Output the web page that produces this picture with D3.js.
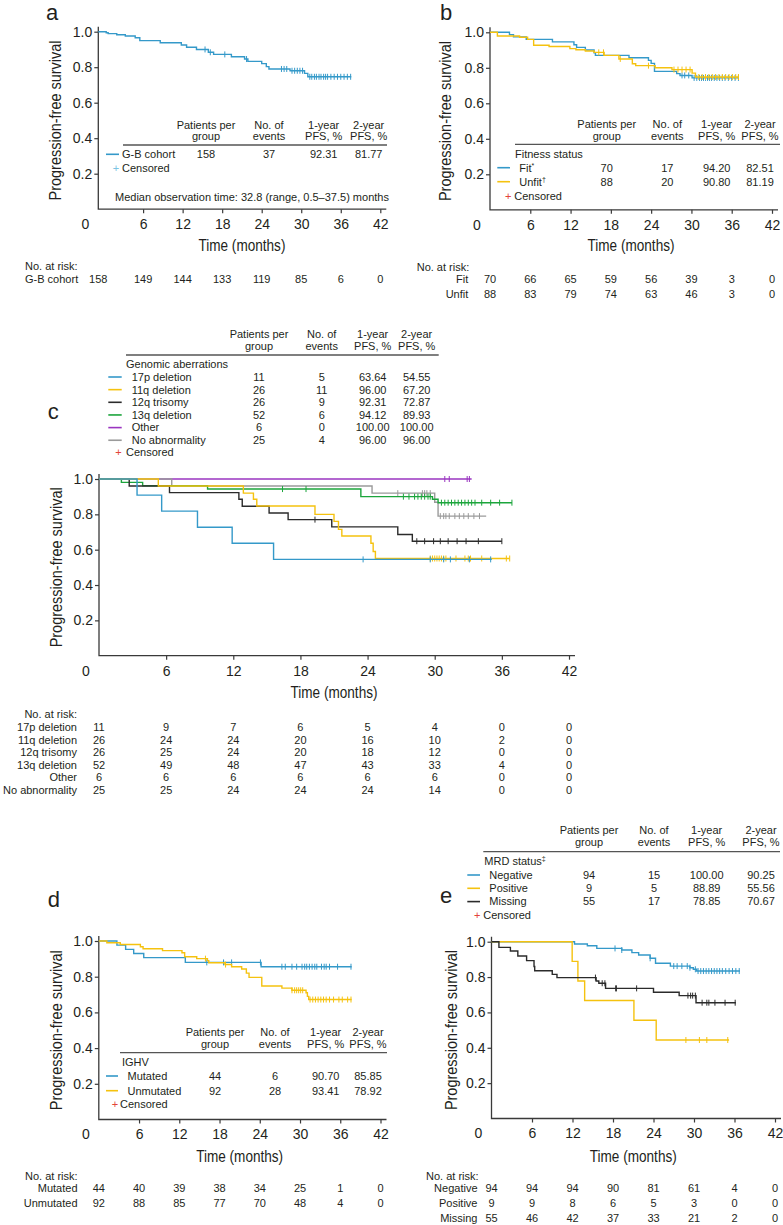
<!DOCTYPE html>
<html lang="en">
<head>
<meta charset="utf-8">
<title>Progression-free survival</title>
<script src="https://d3js.org/d3.v7.min.js"></script>
<style>
  body { margin: 0; background: #fff; }
  svg text { font-family: "Liberation Sans", Arial, sans-serif; fill: #231f20; }
  svg text.narrow { font-family: "Liberation Sans Narrow", "Liberation Sans", Arial, sans-serif; }
</style>
</head>
<body>
<svg id="chart" width="783" height="1225"></svg>
<script>
// ---- axes / risk table times ----
var yTicks = [0.2, 0.4, 0.6, 0.8, 1.0];
var xTicks = [6, 12, 18, 24, 30, 36, 42];
var riskTimes = [0, 6, 12, 18, 24, 30, 36, 42];
var tblHeader = [["Patients per", "group"], ["No. of", "events"], ["1-year", "PFS, %"], ["2-year", "PFS, %"]];

// ---- a: G-B cohort ----
var gbT = [0.4, 0.7, 2.0, 3.3, 4.8, 5.5, 8.6, 11.8, 12.6, 14.1, 15.9, 16.7, 19.4, 21.4, 21.9, 24.0, 24.7, 25.1, 28.3, 30.5, 31.0];
var gbS = [0.994, 0.989, 0.983, 0.976, 0.966, 0.95, 0.938, 0.925, 0.912, 0.9, 0.884, 0.872, 0.859, 0.846, 0.833, 0.82, 0.803, 0.79, 0.78, 0.765, 0.746];
var gbCens = [15.4, 16.2, 18.4, 21.7, 27.0, 27.4, 27.8, 28.6, 29.0, 29.4, 29.8, 30.2, 31.3, 31.6, 32.0, 32.3, 32.7, 33.0, 33.4, 33.7, 34.0, 34.5, 35.0, 35.5, 36.0, 36.5, 37.0, 37.5];
var gbEnd = 37.6;
var riskGB = [158, 149, 144, 133, 119, 85, 6, 0];

// ---- b: fitness ----
var fitT = [2.9, 3.5, 5.4, 9.3, 12.5, 12.9, 14.2, 15.5, 15.7, 20.7, 23.6, 24.0, 24.5, 27.8, 28.3, 30.1];
var fitS = [0.987, 0.974, 0.96, 0.946, 0.93, 0.915, 0.9, 0.884, 0.87, 0.857, 0.842, 0.825, 0.78, 0.767, 0.757, 0.743];
var fitCens = [28.6, 29.0, 29.6, 30.4, 30.8, 31.2, 31.5, 31.8, 32.1, 32.4, 32.7, 33.0, 33.4, 33.8, 34.2, 34.6, 35.0, 35.5, 36.0, 36.5, 37.0];
var fitEnd = 37.0;
var unfitT = [1.1, 4.4, 5.6, 6.5, 8.8, 11.9, 12.8, 14.2, 15.5, 17.0, 19.2, 21.2, 21.7, 24.6, 27.1, 30.1, 30.6];
var unfitS = [0.979, 0.972, 0.96, 0.927, 0.92, 0.908, 0.902, 0.895, 0.887, 0.87, 0.85, 0.823, 0.812, 0.8, 0.79, 0.77, 0.748];
var unfitCens = [16.2, 16.9, 19.4, 23.6, 27.4, 28.0, 28.6, 29.2, 29.8, 31.1, 31.6, 32.1, 32.6, 33.1, 33.6, 34.1, 34.6, 35.1, 35.6, 36.1, 36.6, 37.0];
var unfitEnd = 37.0;
var riskFit = [70, 66, 65, 59, 56, 39, 3, 0];
var riskUnfit = [88, 83, 79, 74, 63, 46, 3, 0];

// ---- c: genomic aberrations ----
var otherT = [], otherS = [];
var otherCens = [30.9, 31.3, 32.9, 33.1];
var otherEnd = 33.3;
var del17T = [3.4, 5.6, 8.8, 11.9, 15.6];
var del17S = [0.909, 0.818, 0.727, 0.636, 0.545];
var del17Cens = [23.6, 29.6, 30.8, 31.4, 33.1, 35.0];
var del17End = 35.1;
var del11T = [5.3, 12.9, 13.8, 14.1, 19.3, 21.0, 21.4, 21.7, 24.3, 24.5, 24.7];
var del11S = [0.96, 0.92, 0.885, 0.847, 0.80, 0.76, 0.715, 0.677, 0.636, 0.59, 0.55];
var del11Cens = [29.6, 29.8, 30.0, 30.2, 30.4, 30.6, 30.8, 31.0, 31.9, 32.7, 33.0, 33.2, 34.2, 36.4, 36.7];
var del11End = 36.7;
var tri12T = [2.7, 6.3, 12.5, 12.8, 15.2, 16.9, 20.8, 26.7, 28.0];
var tri12S = [0.96, 0.923, 0.885, 0.846, 0.808, 0.77, 0.729, 0.686, 0.648];
var tri12Cens = [19.3, 28.4, 29.1, 29.9, 30.5, 31.2, 32.0, 32.8, 33.9, 36.0];
var tri12End = 36.0;
var del13T = [2.0, 3.9, 9.7, 23.4, 29.8, 30.3];
var del13S = [0.981, 0.962, 0.943, 0.90, 0.885, 0.866];
var del13Cens = [16.4, 18.5, 27.2, 27.7, 28.2, 28.5, 28.8, 29.1, 29.4, 29.6, 30.6, 30.9, 31.2, 31.5, 31.8, 32.1, 32.4, 32.7, 33.0, 33.3, 33.6, 34.2, 35.0, 35.8, 36.9];
var del13End = 36.9;
var noAbT = [6.5, 24.4, 30.0, 30.3];
var noAbS = [0.96, 0.92, 0.868, 0.79];
var noAbCens = [26.7, 28.9, 29.1, 29.3, 29.6, 30.5, 30.8, 31.0, 31.3, 31.8, 32.2, 32.6, 33.0, 33.5, 34.0];
var noAbEnd = 34.6;
var risk17p = [11, 9, 7, 6, 5, 4, 0, 0];
var risk11q = [26, 24, 24, 20, 16, 10, 2, 0];
var risk12q = [26, 25, 24, 20, 18, 12, 0, 0];
var risk13q = [52, 49, 48, 47, 43, 33, 4, 0];
var riskOther = [6, 6, 6, 6, 6, 6, 0, 0];
var riskNoAb = [25, 25, 24, 24, 24, 14, 0, 0];

// ---- d: IGHV ----
var mutT = [2.7, 4.0, 5.2, 6.7, 12.9, 24.2];
var mutS = [0.977, 0.953, 0.93, 0.907, 0.88, 0.856];
var mutCens = [16.1, 18.6, 19.8, 24.1, 27.3, 27.8, 28.8, 29.5, 30.3, 30.7, 31.0, 31.4, 31.8, 32.2, 32.5, 33.2, 33.6, 33.9, 34.4, 35.6, 37.6];
var mutEnd = 37.7;
var unmutT = [1.2, 3.2, 6.2, 6.6, 9.5, 12.4, 12.8, 14.6, 16.2, 16.4, 18.8, 19.8, 21.3, 22.0, 22.4, 24.3, 27.3, 28.8, 30.9, 31.1, 31.3];
var unmutS = [0.99, 0.98, 0.968, 0.957, 0.946, 0.934, 0.912, 0.901, 0.89, 0.878, 0.868, 0.856, 0.843, 0.82, 0.796, 0.748, 0.736, 0.724, 0.71, 0.69, 0.672];
var unmutCens = [15.9, 18.9, 28.8, 29.2, 29.5, 29.8, 30.1, 30.4, 31.5, 31.9, 32.3, 32.7, 33.1, 33.5, 33.9, 34.4, 35.0, 35.8, 36.3, 37.1, 37.6];
var unmutEnd = 37.7;
var riskMut = [44, 40, 39, 38, 34, 25, 1, 0];
var riskUnmut = [92, 88, 85, 77, 70, 48, 4, 0];

// ---- e: MRD status ----
var negT = [12.3, 14.2, 15.6, 19.3, 20.8, 21.8, 23.5, 24.3, 26.5, 29.4, 29.9, 30.4];
var negS = [0.987, 0.977, 0.962, 0.953, 0.938, 0.925, 0.906, 0.878, 0.862, 0.853, 0.844, 0.834];
var negCens = [18.3, 19.3, 23.5, 27.0, 27.5, 28.2, 29.0, 29.4, 30.2, 30.6, 31.0, 31.4, 31.8, 32.2, 32.6, 33.0, 33.4, 33.8, 34.2, 34.7, 35.2, 35.7, 36.2, 36.7];
var negEnd = 36.8;
var posT = [11.95, 12.8, 13.8, 21.1, 24.4];
var posS = [0.889, 0.778, 0.667, 0.556, 0.444];
var posCens = [28.8, 30.8, 31.9, 35.0];
var posEnd = 35.2;
var missT = [1.1, 2.8, 3.9, 5.2, 6.3, 6.4, 9.0, 9.7, 15.5, 15.9, 16.9, 24.0, 27.8, 30.3];
var missS = [0.968, 0.947, 0.919, 0.893, 0.86, 0.836, 0.815, 0.797, 0.778, 0.765, 0.736, 0.714, 0.695, 0.655];
var missCens = [15.4, 16.4, 16.8, 18.4, 18.5, 21.5, 29.1, 29.5, 29.8, 30.2, 31.2, 31.9, 32.2, 33.1, 34.6, 36.1];
var missEnd = 36.2;
var riskNeg = [94, 94, 94, 90, 81, 61, 4, 0];
var riskPos = [9, 9, 8, 6, 5, 3, 0, 0];
var riskMiss = [55, 46, 42, 37, 33, 21, 2, 0];

var BLUE = "#3499c9", YELLOW = "#f5c20f", BLACK = "#2b2b2b", GREEN = "#1ca53c",
    PURPLE = "#9a35c0", GRAY = "#9a9a9a", RED = "#e3443a", AXIS = "#3a3a3a";

var svg = d3.select("#chart");

function survAt(t, times, surv) {
  var s = 1;
  for (var i = 0; i < times.length; i++) { if (times[i] <= t) s = surv[i]; }
  return s;
}

function addText(g, txt, x, y, opts) {
  opts = opts || {};
  var el = g.append("text").attr("x", x).attr("y", y).attr("dy", "0.35em")
    .attr("font-size", opts.size || 11)
    .attr("text-anchor", opts.anchor || "start")
    .text(txt);
  if (opts.cls) el.attr("class", opts.cls);
  if (opts.sup) {
    el.append("tspan").attr("font-size", 7).attr("dy", "-0.5em").text(opts.sup);
  }
  return el;
}

function drawPanel(p) {
  var g = svg.append("g");
  var x = d3.scaleLinear().domain([p.xMin, 42]).range([p.axisX, p.x42]);
  var y = d3.scaleLinear().domain([0, 1]).range([p.y0, p.y1]);

  // panel letter
  g.append("text").attr("class", "narrow").attr("x", p.lx).attr("y", p.ly)
    .attr("font-size", 22).text(p.letter);

  // axis frame
  g.append("path")
    .attr("d", "M" + p.axisX + "," + (y(1) - 5) + "V" + p.y0 + "H" + (x(42) + 6))
    .attr("fill", "none").attr("stroke", AXIS).attr("stroke-width", 1.3);

  var ya = g.append("g").attr("transform", "translate(" + p.axisX + ",0)")
    .call(d3.axisLeft(y).tickValues(yTicks).tickFormat(d3.format(".1f")).tickSize(4).tickPadding(2));
  var xa = g.append("g").attr("transform", "translate(0," + p.y0 + ")")
    .call(d3.axisBottom(x).tickValues(xTicks).tickSize(4).tickPadding(6));
  [ya, xa].forEach(function(a) {
    a.attr("font-family", null).attr("font-size", 14);
    a.select(".domain").remove();
    a.selectAll("line").attr("stroke", AXIS).attr("stroke-width", 1.2);
    a.selectAll("text").attr("fill", "#231f20");
  });
  g.append("text").attr("x", p.axisX - 13).attr("y", p.y0 + 10).attr("dy", "0.71em")
    .attr("font-size", 14).attr("text-anchor", "middle").text("0");

  // axis titles
  g.append("text").attr("class", "narrow")
    .attr("transform", "translate(" + p.ylabX + "," + y(0.5) + ") rotate(-90)")
    .attr("dy", "0.35em").attr("text-anchor", "middle").attr("font-size", 16.5)
    .attr("textLength", 160).attr("lengthAdjust", "spacingAndGlyphs")
    .text("Progression-free survival");
  g.append("text").attr("class", "narrow")
    .attr("x", x(21)).attr("y", p.timeY).attr("dy", "0.35em")
    .attr("text-anchor", "middle").attr("font-size", 16.5)
    .attr("textLength", 87).attr("lengthAdjust", "spacingAndGlyphs")
    .text("Time (months)");

  // curves
  var line = d3.line().x(function(d) { return x(d[0]); }).y(function(d) { return y(d[1]); })
    .curve(d3.curveStepAfter);
  p.series.forEach(function(s) {
    var pts = [[p.xMin, 1]];
    s.t.forEach(function(t, i) { pts.push([t, s.s[i]]); });
    pts.push([s.end, s.s.length ? s.s[s.s.length - 1] : 1]);
    g.append("path").datum(pts).attr("d", line)
      .attr("fill", "none").attr("stroke", s.color).attr("stroke-width", 1.4)
      .attr("stroke-linejoin", "miter");
    g.append("g").selectAll("line").data(s.c).enter().append("line")
      .attr("x1", function(d) { return x(d); }).attr("x2", function(d) { return x(d); })
      .attr("y1", function(d) { return y(survAt(d, s.t, s.s)) - 3; })
      .attr("y2", function(d) { return y(survAt(d, s.t, s.s)) + 3; })
      .attr("stroke", s.color).attr("stroke-width", 1);
  });

  // legend table
  var tb = p.tbl;
  tblHeader.forEach(function(h, j) {
    addText(g, h[0], tb.cols[j], tb.hy[0], { anchor: "middle" });
    addText(g, h[1], tb.cols[j], tb.hy[1], { anchor: "middle" });
  });
  g.append("line").attr("x1", tb.ruleX[0]).attr("x2", tb.ruleX[1])
    .attr("y1", tb.ruleY).attr("y2", tb.ruleY).attr("stroke", "#555").attr("stroke-width", 1.3);
  if (tb.title) addText(g, tb.title, tb.titleX, tb.titleY, { sup: tb.titleSup });
  tb.rows.forEach(function(r, i) {
    var ry = tb.rowY0 + i * tb.rowDy;
    g.append("line").attr("x1", tb.markX[0]).attr("x2", tb.markX[1]).attr("y1", ry).attr("y2", ry)
      .attr("stroke", p.series[r.si].color).attr("stroke-width", 1.6);
    addText(g, r.label, tb.labX, ry, { sup: r.sup });
    r.vals.forEach(function(v, j) { addText(g, v, tb.cols[j], ry, { anchor: "middle" }); });
  });
  addText(g, "+", tb.censX, tb.censY, { anchor: "middle" }).style("fill", tb.censColor);
  addText(g, "Censored", tb.censTX, tb.censY);
  if (p.note) addText(g, p.note, p.noteX, p.noteY);

  // number at risk
  var rk = p.risk;
  addText(g, "No. at risk:", rk.headX, rk.headY, { anchor: rk.headAnchor });
  rk.rows.forEach(function(r, i) {
    var ry = rk.rowY0 + i * rk.rowDy;
    addText(g, r[0], rk.labX, ry, { anchor: rk.labAnchor });
    r[1].forEach(function(v, j) {
      var vx = riskTimes[j] === 0 ? p.axisX : x(riskTimes[j]);
      addText(g, String(v), vx, ry, { anchor: "middle" });
    });
  });
}

var panels = [
  {
    letter: "a", lx: 46, ly: 20, xMin: -0.8, axisX: 98.3, x42: 380.3, y0: 209.2, y1: 31.7, ylabX: 55, timeY: 245,
    series: [{ t: gbT, s: gbS, c: gbCens, end: gbEnd, color: BLUE }],
    tbl: {
      hy: [125, 136.5], cols: [206, 269, 323.7, 368.7], ruleY: 145, ruleX: [123, 387],
      rowY0: 154.3, rowDy: 14, markX: [106, 119], labX: 122,
      rows: [{ si: 0, label: "G-B cohort", vals: ["158", "37", "92.31", "81.77"] }],
      censX: 116, censY: 168.3, censTX: 122, censColor: "#7cc3e3"
    },
    note: "Median observation time: 32.8 (range, 0.5\u201337.5) months", noteX: 115, noteY: 196.7,
    risk: { headX: 25, headAnchor: "start", headY: 265.7, labX: 25, labAnchor: "start", rowY0: 279.3, rowDy: 15,
      rows: [["G-B cohort", riskGB]] }
  },
  {
    letter: "b", lx: 440, ly: 20, xMin: 0, axisX: 490, x42: 772, y0: 209.8, y1: 32.3, ylabX: 445, timeY: 245.7,
    series: [{ t: fitT, s: fitS, c: fitCens, end: fitEnd, color: BLUE },
             { t: unfitT, s: unfitS, c: unfitCens, end: unfitEnd, color: YELLOW }],
    tbl: {
      hy: [124, 135.7], cols: [606.7, 667.3, 716.7, 760], ruleY: 144.3, ruleX: [515, 780],
      title: "Fitness status", titleX: 515, titleY: 153.7,
      rowY0: 167.7, rowDy: 14, markX: [497.3, 510], labX: 519.3,
      rows: [{ si: 0, label: "Fit", sup: "*", vals: ["70", "17", "94.20", "82.51"] },
             { si: 1, label: "Unfit", sup: "\u2020", vals: ["88", "20", "90.80", "81.19"] }],
      censX: 508.3, censY: 196, censTX: 514.3, censColor: RED
    },
    risk: { headX: 416.7, headAnchor: "start", headY: 266.7, labX: 468.3, labAnchor: "end", rowY0: 279.3, rowDy: 15,
      rows: [["Fit", riskFit], ["Unfit", riskUnfit]] }
  },
  {
    letter: "c", lx: 47.7, ly: 418.5, xMin: 0, axisX: 99, x42: 569, y0: 655.7, y1: 479, ylabX: 55.8, timeY: 692.3,
    series: [{ t: otherT, s: otherS, c: otherCens, end: otherEnd, color: PURPLE },
             { t: noAbT, s: noAbS, c: noAbCens, end: noAbEnd, color: GRAY },
             { t: del13T, s: del13S, c: del13Cens, end: del13End, color: GREEN },
             { t: tri12T, s: tri12S, c: tri12Cens, end: tri12End, color: BLACK },
             { t: del11T, s: del11S, c: del11Cens, end: del11End, color: YELLOW },
             { t: del17T, s: del17S, c: del17Cens, end: del17End, color: BLUE }],
    tbl: {
      hy: [334, 346], cols: [259, 321.7, 372.7, 416.7], ruleY: 355, ruleX: [126, 438.7],
      title: "Genomic aberrations", titleX: 126, titleY: 364,
      rowY0: 377, rowDy: 12.65, markX: [108.3, 121.7], labX: 131.7,
      rows: [{ si: 5, label: "17p deletion", vals: ["11", "5", "63.64", "54.55"] },
             { si: 4, label: "11q deletion", vals: ["26", "11", "96.00", "67.20"] },
             { si: 3, label: "12q trisomy", vals: ["26", "9", "92.31", "72.87"] },
             { si: 2, label: "13q deletion", vals: ["52", "6", "94.12", "89.93"] },
             { si: 0, label: "Other", vals: ["6", "0", "100.00", "100.00"] },
             { si: 1, label: "No abnormality", vals: ["25", "4", "96.00", "96.00"] }],
      censX: 118.5, censY: 452.5, censTX: 126, censColor: RED
    },
    risk: { headX: 77, headAnchor: "end", headY: 714, labX: 77, labAnchor: "end", rowY0: 727.3, rowDy: 12.5,
      rows: [["17p deletion", risk17p], ["11q deletion", risk11q], ["12q trisomy", risk12q],
             ["13q deletion", risk13q], ["Other", riskOther], ["No abnormality", riskNoAb]] }
  },
  {
    letter: "d", lx: 47.7, ly: 907, xMin: 0, axisX: 98.8, x42: 380.5, y0: 1119.5, y1: 941, ylabX: 56, timeY: 1156,
    series: [{ t: mutT, s: mutS, c: mutCens, end: mutEnd, color: BLUE },
             { t: unmutT, s: unmutS, c: unmutCens, end: unmutEnd, color: YELLOW }],
    tbl: {
      hy: [1032.3, 1044.3], cols: [215, 275, 325.7, 368], ruleY: 1052.7, ruleX: [120, 387],
      title: "IGHV", titleX: 122, titleY: 1061.7,
      rowY0: 1076, rowDy: 14.7, markX: [106, 118], labX: 127.5,
      rows: [{ si: 0, label: "Mutated", vals: ["44", "6", "90.70", "85.85"] },
             { si: 1, label: "Unmutated", vals: ["92", "28", "93.41", "78.92"] }],
      censX: 115, censY: 1104.3, censTX: 120, censColor: RED
    },
    risk: { headX: 25, headAnchor: "start", headY: 1176, labX: 77.5, labAnchor: "end", rowY0: 1188.3, rowDy: 15,
      rows: [["Mutated", riskMut], ["Unmutated", riskUnmut]] }
  },
  {
    letter: "e", lx: 440, ly: 903, xMin: 0, axisX: 491.5, x42: 775, y0: 1118.5, y1: 941.7, ylabX: 451, timeY: 1156,
    series: [{ t: negT, s: negS, c: negCens, end: negEnd, color: BLUE },
             { t: posT, s: posS, c: posCens, end: posEnd, color: YELLOW },
             { t: missT, s: missS, c: missCens, end: missEnd, color: BLACK }],
    tbl: {
      hy: [830, 842.3], cols: [589, 654, 706.7, 761], ruleY: 851.7, ruleX: [483.3, 780],
      title: "MRD status", titleSup: "\u2021", titleX: 484.3, titleY: 861,
      rowY0: 875, rowDy: 13.3, markX: [467.3, 480], labX: 489.3,
      rows: [{ si: 0, label: "Negative", vals: ["94", "15", "100.00", "90.25"] },
             { si: 1, label: "Positive", vals: ["9", "5", "88.89", "55.56"] },
             { si: 2, label: "Missing", vals: ["55", "17", "78.85", "70.67"] }],
      censX: 477.3, censY: 915, censTX: 483.3, censColor: RED
    },
    risk: { headX: 426, headAnchor: "start", headY: 1176, labX: 477.5, labAnchor: "end", rowY0: 1188, rowDy: 15,
      rows: [["Negative", riskNeg], ["Positive", riskPos], ["Missing", riskMiss]] }
  }
];

panels.forEach(drawPanel);
</script>
</body>
</html>
